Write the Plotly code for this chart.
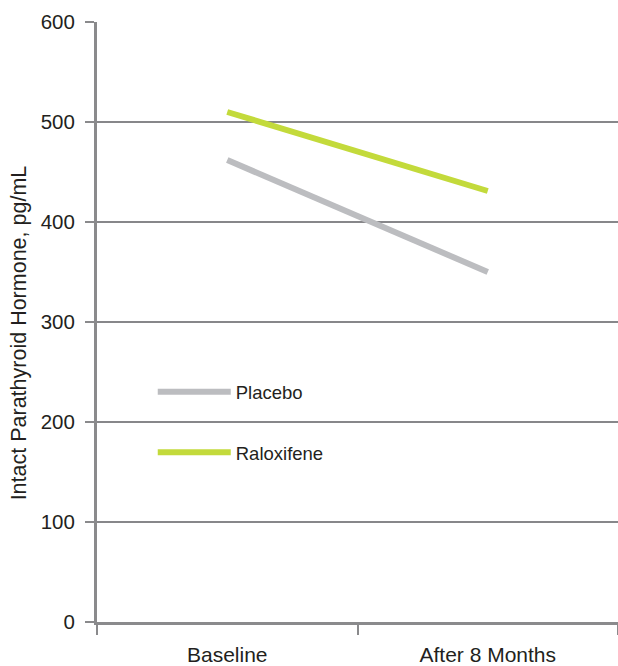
import plotly.graph_objects as go

categories = ["Baseline", "After 8 Months"]
placebo = [462, 350]
raloxifene = [510, 431]
y_ticks = [0, 100, 200, 300, 400, 500, 600]
y_title = "Intact Parathyroid Hormone, pg/mL"

TEXT = "#231f20"
AXIS = "#8a8a8c"
FONT = "Liberation Sans, Arial, sans-serif"

fig = go.Figure()
fig.add_trace(go.Scatter(
    x=categories, y=placebo, mode="lines", name="Placebo",
    line=dict(color="#bcbdc0", width=6), legend="legend"))
fig.add_trace(go.Scatter(
    x=categories, y=raloxifene, mode="lines", name="Raloxifene",
    line=dict(color="#c3da3b", width=6), legend="legend2"))

leg_common = dict(xanchor="left", yanchor="middle", itemwidth=73,
                  font=dict(family=FONT, size=18.5, color=TEXT),
                  bgcolor="rgba(0,0,0,0)")

fig.update_layout(
    width=618, height=666,
    margin=dict(l=97, r=0, t=22, b=44),
    paper_bgcolor="white", plot_bgcolor="white",
    font=dict(family=FONT, color=TEXT),
    showlegend=True,
    legend=dict(x=0.107, y=0.383, **leg_common),
    legend2=dict(x=0.107, y=0.282, **leg_common),
    xaxis=dict(
        type="category", range=[-0.5, 1.5], tickson="boundaries",
        showline=True, linecolor=AXIS, linewidth=3,
        ticks="outside", ticklen=10, tickwidth=2, tickcolor=AXIS,
        showgrid=False, zeroline=False, ticklabelstandoff=12,
        tickfont=dict(family=FONT, size=21, color=TEXT),
    ),
    yaxis=dict(
        range=[0, 600], tickvals=y_ticks,
        showline=True, linecolor=AXIS, linewidth=3,
        ticks="outside", ticklen=9, tickwidth=2, tickcolor=AXIS,
        showgrid=True, gridcolor="#87878a", gridwidth=2,
        zeroline=False, ticklabelstandoff=6,
        tickfont=dict(family=FONT, size=20.5, color=TEXT),
    ),
    annotations=[dict(
        text=y_title, textangle=-90, showarrow=False,
        xref="paper", yref="paper", x=-0.149, y=0.4817,
        xanchor="center", yanchor="middle",
        font=dict(family=FONT, size=21.5, color=TEXT),
    )],
)

fig.write_html(
    "out.html",
    config={"displayModeBar": False},
    post_script="document.body.style.margin='0';document.body.style.overflow='hidden';",
)
